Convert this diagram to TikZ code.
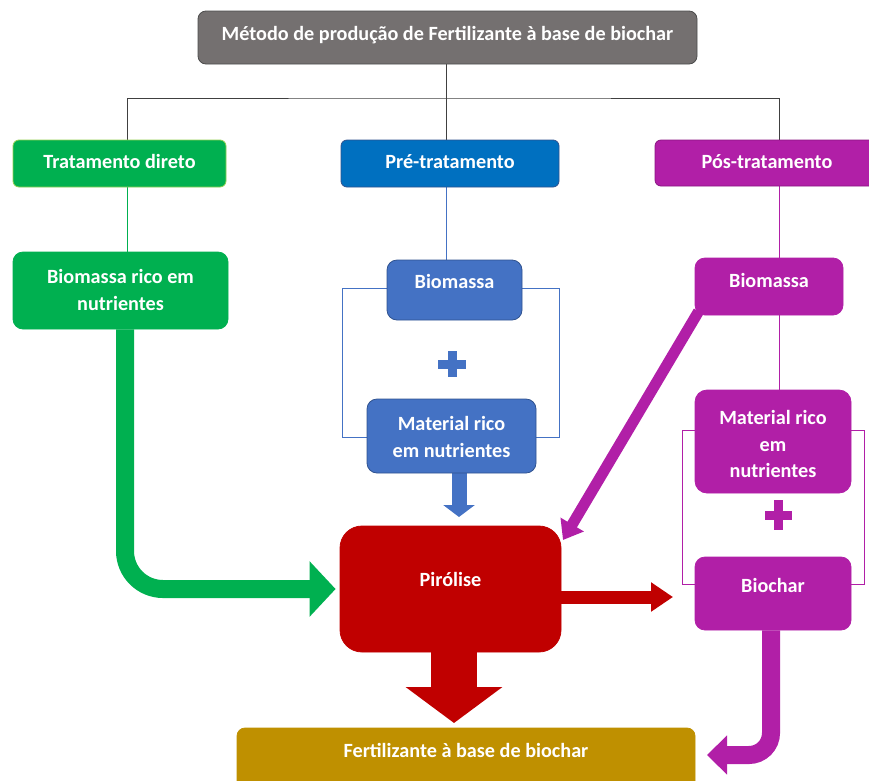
\documentclass[tikz,border=0pt]{standalone}
\usepackage{fontspec}
\setmainfont{Carlito}
\usetikzlibrary{arrows.meta,backgrounds}
\definecolor{cgray}{HTML}{747070}
\definecolor{cgreen}{HTML}{00B050}
\definecolor{lgreen}{HTML}{92D050}
\definecolor{cblue}{HTML}{0070C0}
\definecolor{cblue2}{HTML}{4472C4}
\definecolor{dblue}{HTML}{2F528F}
\definecolor{cpurple}{HTML}{B11FA7}
\definecolor{dpurple}{HTML}{8A1682}
\definecolor{cred}{HTML}{C00000}
\definecolor{cgold}{HTML}{BF9000}
\begin{document}
\begin{tikzpicture}[x=1pt,y=-1pt,
  font=\fontsize{20.2}{26.5}\selectfont\bfseries,
  boxbase/.style={inner sep=0pt, line width=0.8pt},
  txt/.style={text=white, align=center, inner sep=0pt, text height=13pt, text depth=3pt},
  mtxt/.style={text=white, align=center, inner sep=0pt},
  conn/.style={draw=black!75, line width=1pt},
  gline/.style={draw=cgreen, line width=1pt},
  bline/.style={draw=cblue2, line width=1pt},
  pline/.style={draw=cpurple, line width=1pt}]
\useasboundingbox (0,0) rectangle (869,780);
% boxes
\node[boxbase, draw=black!70, fill=cgray, rounded corners=8pt, minimum width=499pt, minimum height=53pt] (top) at (447.5,37.5) {};
\node[boxbase, draw=lgreen, fill=cgreen, rounded corners=6pt, minimum width=213pt, minimum height=47pt] (td) at (119.5,163.5) {};
\node[boxbase, draw=dblue, fill=cblue, rounded corners=6pt, minimum width=218pt, minimum height=47pt] (pt) at (450,163.5) {};
\node[boxbase, draw=dpurple, fill=cpurple, rounded corners=6pt, minimum width=224pt, minimum height=46pt] (pos) at (767,163) {};
\node[boxbase, draw=cgreen, fill=cgreen, rounded corners=10pt, minimum width=215pt, minimum height=77pt] (bio1) at (120.5,290.5) {};
\node[boxbase, draw=dblue, fill=cblue2, rounded corners=10pt, minimum width=135pt, minimum height=60pt] (bio2) at (454.5,290) {};
\node[boxbase, draw=dblue, fill=cblue2, rounded corners=10pt, minimum width=169pt, minimum height=74pt] (mat2) at (451.5,436) {};
\node[boxbase, draw=cred, fill=cred, rounded corners=22pt, minimum width=221pt, minimum height=126pt] (pir) at (450.5,589) {};
\node[boxbase, draw=cpurple, fill=cpurple, rounded corners=10pt, minimum width=148pt, minimum height=57pt] (bio3) at (769,286.5) {};
\node[boxbase, draw=cpurple, fill=cpurple, rounded corners=12pt, minimum width=156pt, minimum height=103pt] (mat3) at (773,441.5) {};
\node[boxbase, draw=cpurple, fill=cpurple, rounded corners=10pt, minimum width=156pt, minimum height=73pt] (bch) at (773,593.5) {};
\node[boxbase, draw=cgold, fill=cgold, rounded corners=8pt, minimum width=458pt, minimum height=62pt] (fert) at (466,759) {};
% texts
\node[txt] (ttop) at (447.5,35) {Método de produção de Fertilizante à base de biochar};
\node[txt] (ttd) at (119.5,163) {Tratamento direto};
\node[txt] (tpt) at (450,163) {Pré-tratamento};
\node[txt] (tpos) at (767,163) {Pós-tratamento};
\node[mtxt] (tbio1) at (120.5,290) {Biomassa rico em\\nutrientes};
\node[txt] (tbio2) at (454.5,283) {Biomassa};
\node[mtxt] (tmat2) at (451.5,437) {Material rico\\em nutrientes};
\node[txt] (tpir) at (450.5,581) {Pirólise};
\node[txt] (tbio3) at (769,282) {Biomassa};
\node[mtxt] (tmat3) at (773,444) {Material rico\\em\\nutrientes};
\node[txt] (tbch) at (773,587) {Biochar};
\node[txt] (tfert) at (466,752) {Fertilizante à base de biochar};
% helper coordinates
\coordinate (bus) at (446,98);
\coordinate (tdx) at (127,0);
\coordinate (pl) at (779,0);
\coordinate (bl1) at (342,288);
\coordinate (bl2) at (342,437);
\coordinate (br1) at (559,288);
\coordinate (br2) at (559,437);
\coordinate (ql1) at (682,430);
\coordinate (ql2) at (682,584);
\coordinate (qr1) at (864,430);
\coordinate (qr2) at (864,584);
\coordinate (ga) at (125,0);
\coordinate (bd) at (459,517);
\coordinate (rd) at (454,723);
\coordinate (rr) at (673,597);
\coordinate (pd) at (563,540);
\coordinate (pb) at (707,755);
\begin{scope}[on background layer]
\draw[conn] (top.south -| bus) -- (bus);
\draw[conn] (td.north -| tdx) |- (bus) -| (pos.north -| pl);
\draw[conn] (bus) -- (pt.north -| bus);
\draw[gline] (td.south -| tdx) -- (bio1.north -| tdx);
\draw[bline] (pt.south -| bus) -- (bio2.north -| bus);
\draw[pline] (pos.south -| pl) -- (bio3.north -| pl);
\draw[pline] (bio3.south -| pl) -- (mat3.north -| pl);
\draw[bline] (bio2.west |- bl1) -- (bl1) -- (bl2) -- (mat2.west |- bl2);
\draw[bline] (bio2.east |- br1) -- (br1) -- (br2) -- (mat2.east |- br2);
\draw[pline] (mat3.west |- ql1) -- (ql1) -- (ql2) -- (bch.west |- ql2);
\draw[pline] (mat3.east |- qr1) -- (qr1) -- (qr2) -- (bch.east |- qr2);
% thick arrows
\draw[draw=cgreen, line width=18pt, rounded corners=38pt, -{Triangle[length=26pt,width=54pt]}]
  (bio1.south -| ga) |- ([xshift=-4pt]pir.west);
\draw[draw=cblue2, line width=15pt, -{Triangle[length=12pt,width=31pt]}] (mat2.south -| bd) -- (bd);
\draw[draw=cred, line width=46pt, -{Triangle[length=36pt,width=95pt]}] (pir.south -| rd) -- (rd);
\draw[draw=cred, line width=13pt, -{Triangle[length=22pt,width=28pt]}] (pir.east |- rr) -- (rr);
\draw[draw=cpurple, line width=11pt, -{Triangle[length=18pt,width=26pt]}] ([shift={(4pt,4pt)}]bio3.south west) -- (pd);
\draw[draw=cpurple, line width=18pt, rounded corners=22pt, -{Triangle[length=20pt,width=38pt]}] ([xshift=-2pt]bch.south) |- (pb);
\end{scope}
% plus signs
\fill[cblue2] (452,364) +(-14,-4.5) rectangle +(14,4.5);
\fill[cblue2] (452,364) +(-4.5,-13) rectangle +(4.5,13);
\fill[cpurple] (778,515) +(-13.5,-4.5) rectangle +(13.5,4.5);
\fill[cpurple] (778,515) +(-4.5,-15) rectangle +(4.5,15);
\end{tikzpicture}
\end{document}
